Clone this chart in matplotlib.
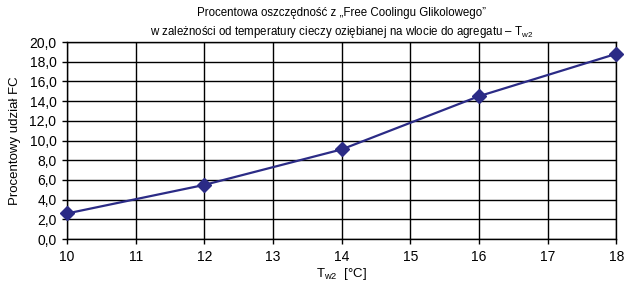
import matplotlib
matplotlib.use("Agg")
import matplotlib.pyplot as plt

temps = [10, 12, 14, 16, 18]
fc_share = [2.6, 5.5, 9.1, 14.5, 18.8]

x_ticks = [10, 11, 12, 13, 14, 15, 16, 17, 18]
y_ticks = [0, 2, 4, 6, 8, 10, 12, 14, 16, 18, 20]

plt.rcParams['font.family'] = ['Liberation Sans', 'DejaVu Sans']
plt.rcParams['mathtext.fontset'] = 'custom'
plt.rcParams['mathtext.rm'] = 'Liberation Sans'

fig = plt.figure(figsize=(6.32, 2.86), dpi=100)
ax = fig.add_axes([0.106, 0.164, 0.869, 0.689])

ax.plot(temps, fc_share, color='#2b2b86', lw=1.6, marker='D', ms=7,
        markerfacecolor='#2b2b86', markeredgecolor='#2b2b86', zorder=3,
        clip_on=False)

ax.set_xlim(10, 18)
ax.set_ylim(0, 20)
ax.set_xticks(x_ticks)
ax.set_yticks(y_ticks)
ax.set_yticklabels([("%.1f" % v).replace('.', ',') for v in y_ticks], fontsize=10)
ax.set_xticklabels([str(v) for v in x_ticks], fontsize=10)
ax.grid(True, color='black', lw=1.0)
ax.set_axisbelow(True)
for s in ax.spines.values():
    s.set_color('black')
    s.set_linewidth(1.0)
ax.tick_params(direction='out', length=3.6, width=1.0, color='black', pad=4)

ax.set_xlabel(r"T$_{\mathregular{w2}}$  [°C]", fontsize=9.5, labelpad=2)
ax.set_ylabel("Procentowy udział FC", fontsize=9.5, labelpad=6)
ax.set_title("Procentowa oszczędność z „Free Coolingu Glikolowego”\n"
             "w zależności od temperatury cieczy oziębianej na wlocie do agregatu – T$_{\\mathregular{w2}}$",
             fontsize=8.3, pad=5, linespacing=1.45)

fig.savefig("out.png", dpi=100)
